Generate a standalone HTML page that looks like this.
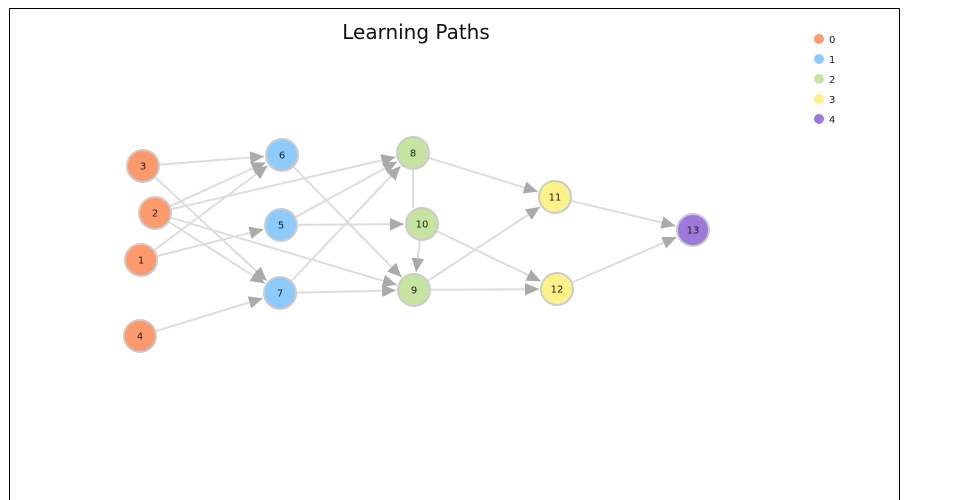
<!DOCTYPE html>
<html><head><meta charset="utf-8"><style>
body{margin:0;background:#fff;width:960px;height:500px;overflow:hidden}
svg{display:block}
text{font-family:"DejaVu Sans","Liberation Sans",sans-serif}
</style></head><body>
<svg id="s" width="960" height="500" xmlns="http://www.w3.org/2000/svg">
<defs>
<marker id="b" viewBox="0 0 10 10" refX="10" refY="5" markerWidth="14" markerHeight="14" markerUnits="userSpaceOnUse" orient="auto"><path d="M0,0.5L10,5L0,9.5z" fill="#aaa"/></marker></defs>
<rect x="9.5" y="8.5" width="890" height="500" fill="none" stroke="#000" stroke-width="1"/>
<text x="416" y="39" font-size="20" text-anchor="middle" fill="#111">Learning Paths</text>
<g id="e"></g><g id="n"></g>
<g font-size="10" fill="#222">
<circle cx="819" cy="39" r="5" fill="#fc9a6c"/><text x="829" y="43">0</text>
<circle cx="819" cy="59" r="5" fill="#8ccbfc"/><text x="829" y="63">1</text>
<circle cx="819" cy="79" r="5" fill="#c4e4a0"/><text x="829" y="83">2</text>
<circle cx="819" cy="99" r="5" fill="#fcf287"/><text x="829" y="103">3</text>
<circle cx="819" cy="119" r="5" fill="#9c79db"/><text x="829" y="123">4</text>
</g>
</svg>
<script>
var N={3:[143,166,0],2:[155,213,0],1:[141,260,0],4:[140,336,0],6:[282,155,1],5:[281,225,1],7:[280,293,1],8:[413,153,2],10:[422,224,2],9:[414,290,2],11:[555,197,3],12:[557,289,3],13:[693,230,4]};
var C=["#fc9a6c","#8ccbfc","#c4e4a0","#fcf287","#9c79db"];
var E=[[3,6],[3,7],[2,6],[2,8],[2,7],[2,9],[1,6],[1,5],[4,7],[6,9],[5,8],[5,10],[7,8],[7,9],[10,9],[8,11],[9,11],[9,12],[10,12],[11,13],[12,13]];
var g=document.getElementById('e'),h='',r=17;
h+='<line x1="413" y1="170" x2="413" y2="208" stroke="#ddd" stroke-width="2"/>';
E.forEach(function(e){var a=N[e[0]],b=N[e[1]],dx=b[0]-a[0],dy=b[1]-a[1],L=Math.hypot(dx,dy),ux=dx/L,uy=dy/L;
var x1=a[0]+ux*r,y1=a[1]+uy*r,x2=b[0]-ux*(r+1),y2=b[1]-uy*(r+1);
h+='<line x1="'+x1+'" y1="'+y1+'" x2="'+x2+'" y2="'+y2+'" stroke="#ddd" stroke-width="2" marker-end="url(#b)"/>';});
g.innerHTML=h;h='';
for(var k in N){var p=N[k];h+='<circle cx="'+p[0]+'" cy="'+p[1]+'" r="16" fill="'+C[p[2]]+'" stroke="#ccc" stroke-width="2"/><text x="'+p[0]+'" y="'+(p[1]+3.5)+'" font-size="10" text-anchor="middle" fill="#222">'+k+'</text>';}
document.getElementById('n').innerHTML=h;
</script>
</body></html>
